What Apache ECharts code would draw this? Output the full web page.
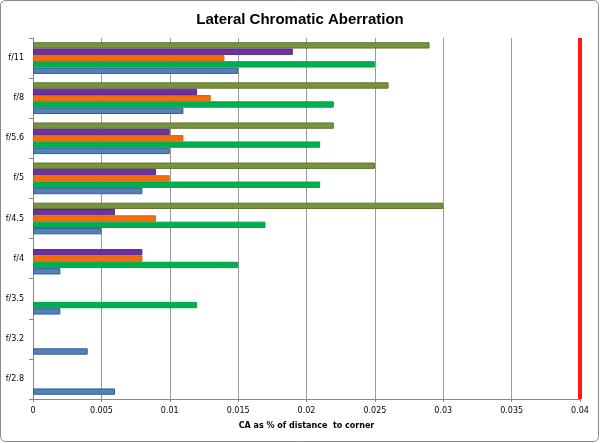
<!DOCTYPE html>
<html>
<head>
<meta charset="utf-8">
<script src="https://cdn.jsdelivr.net/npm/echarts@6/dist/echarts.min.js"></script>
<style>
  html, body { margin: 0; padding: 0; background: #fff; }
  #chart { width: 600px; height: 443px; }
</style>
</head>
<body>
<div id="chart"></div>
<script>
// apertures, bottom to top
const apertures = ['f/2.8', 'f/3.2', 'f/3.5', 'f/4', 'f/4.5', 'f/5', 'f/5.6', 'f/8', 'f/11']
// one array per coloured bar, same order as apertures
const blueVals = [0.006, 0.004, 0.002, 0.002, 0.005, 0.008, 0.010, 0.011, 0.015]
const greenVals = [null, null, 0.012, 0.015, 0.017, 0.021, 0.021, 0.022, 0.025]
const orangeVals = [null, null, null, 0.008, 0.009, 0.010, 0.011, 0.013, 0.014]
const purpleVals = [null, null, null, 0.008, 0.006, 0.009, 0.010, 0.012, 0.019]
const oliveVals = [null, null, null, null, 0.030, 0.025, 0.022, 0.026, 0.029]
const limitValue = 0.04

const chart = echarts.init(document.getElementById('chart'))

const barStyle = (fill, edge) => ({
  color: fill,
  borderColor: edge,
  borderWidth: 1
})

const option = {
  backgroundColor: '#fff',
  animation: false,
  title: {
    text: 'Lateral Chromatic Aberration',
    left: 'center',
    top: 7,
    textStyle: {
      fontFamily: 'Liberation Sans',
      fontSize: 15,
      fontWeight: 'bold',
      color: '#000'
    }
  },
  graphic: [{
    type: 'rect',
    shape: { x: 0.5, y: 0.5, width: 598, height: 441, r: 5 },
    style: { fill: 'none', stroke: '#8a8a8a', lineWidth: 1 },
    silent: true
  }],
  grid: {
    left: 33,
    right: 20,
    top: 38,
    bottom: 44
  },
  xAxis: {
    type: 'value',
    min: 0,
    max: 0.04,
    interval: 0.005,
    name: 'CA as % of distance  to corner',
    nameLocation: 'middle',
    nameGap: 23,
    nameTextStyle: {
      fontFamily: 'DejaVu Sans',
      fontSize: 8,
      fontWeight: 'bold',
      color: '#000'
    },
    axisLine: { show: true, lineStyle: { color: '#888', width: 1 } },
    axisTick: { show: true, length: 3, lineStyle: { color: '#888' } },
    axisLabel: {
      fontFamily: 'DejaVu Sans',
      fontSize: 8,
      color: '#000',
      margin: 8,
      formatter: v => String(+v.toFixed(3))
    },
    splitLine: { show: true, lineStyle: { color: '#9a9a9a', width: 1 } }
  },
  yAxis: {
    type: 'category',
    data: apertures,
    axisLine: { show: true, lineStyle: { color: '#888', width: 1 } },
    axisTick: { show: true, length: 4, lineStyle: { color: '#888' } },
    axisLabel: {
      fontFamily: 'DejaVu Sans',
      fontSize: 8,
      color: '#000',
      margin: 9
    },
    splitLine: { show: false }
  },
  // first series is drawn at the top of each group
  series: [
    {
      name: 'olive', type: 'bar', data: oliveVals,
      barGap: '0%', barCategoryGap: '21%',
      itemStyle: barStyle('#77933C', '#5F7530'),
      markLine: {
        silent: true,
        symbol: 'none',
        label: { show: false },
        lineStyle: { color: '#ff1a1a', width: 4, type: 'solid' },
        data: [{ xAxis: limitValue }]
      }
    },
    { name: 'purple', type: 'bar', data: purpleVals, itemStyle: barStyle('#7030A0', '#5A2585') },
    { name: 'orange', type: 'bar', data: orangeVals, itemStyle: barStyle('#F36F0C', '#E0600A') },
    { name: 'green', type: 'bar', data: greenVals, itemStyle: barStyle('#00B050', '#00A04A') },
    { name: 'blue', type: 'bar', data: blueVals, itemStyle: barStyle('#4F81BD', '#385D8A') }
  ]
}

chart.setOption(option)
</script>
</body>
</html>
